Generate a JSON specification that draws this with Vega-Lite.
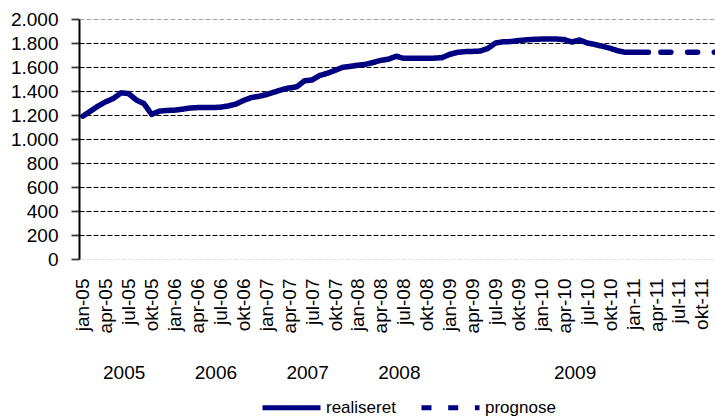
{
  "$schema": "https://vega.github.io/schema/vega-lite/v6.json",
  "width": 642,
  "height": 240,
  "autosize": {"type": "none"},
  "padding": {"left": 79, "top": 19, "right": 0, "bottom": 157},
  "background": "white",
  "config": {
    "font": "Liberation Sans",
    "view": {"stroke": null}
  },
  "data": {
    "values": [
      {"month": "jan-05", "value": 1190, "series": "realiseret"},
      {"month": "feb-05", "value": 1232, "series": "realiseret"},
      {"month": "mar-05", "value": 1275, "series": "realiseret"},
      {"month": "apr-05", "value": 1310, "series": "realiseret"},
      {"month": "maj-05", "value": 1338, "series": "realiseret"},
      {"month": "jun-05", "value": 1385, "series": "realiseret"},
      {"month": "jul-05", "value": 1378, "series": "realiseret"},
      {"month": "aug-05", "value": 1325, "series": "realiseret"},
      {"month": "sep-05", "value": 1295, "series": "realiseret"},
      {"month": "okt-05", "value": 1205, "series": "realiseret"},
      {"month": "nov-05", "value": 1232, "series": "realiseret"},
      {"month": "dec-05", "value": 1238, "series": "realiseret"},
      {"month": "jan-06", "value": 1240, "series": "realiseret"},
      {"month": "feb-06", "value": 1248, "series": "realiseret"},
      {"month": "mar-06", "value": 1258, "series": "realiseret"},
      {"month": "apr-06", "value": 1262, "series": "realiseret"},
      {"month": "maj-06", "value": 1262, "series": "realiseret"},
      {"month": "jun-06", "value": 1262, "series": "realiseret"},
      {"month": "jul-06", "value": 1265, "series": "realiseret"},
      {"month": "aug-06", "value": 1275, "series": "realiseret"},
      {"month": "sep-06", "value": 1290, "series": "realiseret"},
      {"month": "okt-06", "value": 1320, "series": "realiseret"},
      {"month": "nov-06", "value": 1345, "series": "realiseret"},
      {"month": "dec-06", "value": 1355, "series": "realiseret"},
      {"month": "jan-07", "value": 1370, "series": "realiseret"},
      {"month": "feb-07", "value": 1390, "series": "realiseret"},
      {"month": "mar-07", "value": 1410, "series": "realiseret"},
      {"month": "apr-07", "value": 1425, "series": "realiseret"},
      {"month": "maj-07", "value": 1435, "series": "realiseret"},
      {"month": "jun-07", "value": 1485, "series": "realiseret"},
      {"month": "jul-07", "value": 1492, "series": "realiseret"},
      {"month": "aug-07", "value": 1530, "series": "realiseret"},
      {"month": "sep-07", "value": 1548, "series": "realiseret"},
      {"month": "okt-07", "value": 1572, "series": "realiseret"},
      {"month": "nov-07", "value": 1597, "series": "realiseret"},
      {"month": "dec-07", "value": 1605, "series": "realiseret"},
      {"month": "jan-08", "value": 1615, "series": "realiseret"},
      {"month": "feb-08", "value": 1622, "series": "realiseret"},
      {"month": "mar-08", "value": 1638, "series": "realiseret"},
      {"month": "apr-08", "value": 1655, "series": "realiseret"},
      {"month": "maj-08", "value": 1665, "series": "realiseret"},
      {"month": "jun-08", "value": 1690, "series": "realiseret"},
      {"month": "jul-08", "value": 1672, "series": "realiseret"},
      {"month": "aug-08", "value": 1672, "series": "realiseret"},
      {"month": "sep-08", "value": 1672, "series": "realiseret"},
      {"month": "okt-08", "value": 1672, "series": "realiseret"},
      {"month": "nov-08", "value": 1674, "series": "realiseret"},
      {"month": "dec-08", "value": 1678, "series": "realiseret"},
      {"month": "jan-09", "value": 1705, "series": "realiseret"},
      {"month": "feb-09", "value": 1722, "series": "realiseret"},
      {"month": "mar-09", "value": 1728, "series": "realiseret"},
      {"month": "apr-09", "value": 1730, "series": "realiseret"},
      {"month": "maj-09", "value": 1733, "series": "realiseret"},
      {"month": "jun-09", "value": 1755, "series": "realiseret"},
      {"month": "jul-09", "value": 1800, "series": "realiseret"},
      {"month": "aug-09", "value": 1810, "series": "realiseret"},
      {"month": "sep-09", "value": 1812, "series": "realiseret"},
      {"month": "okt-09", "value": 1820, "series": "realiseret"},
      {"month": "nov-09", "value": 1826, "series": "realiseret"},
      {"month": "dec-09", "value": 1830, "series": "realiseret"},
      {"month": "jan-10", "value": 1833, "series": "realiseret"},
      {"month": "feb-10", "value": 1833, "series": "realiseret"},
      {"month": "mar-10", "value": 1833, "series": "realiseret"},
      {"month": "apr-10", "value": 1828, "series": "realiseret"},
      {"month": "maj-10", "value": 1808, "series": "realiseret"},
      {"month": "jun-10", "value": 1825, "series": "realiseret"},
      {"month": "jul-10", "value": 1800, "series": "realiseret"},
      {"month": "aug-10", "value": 1788, "series": "realiseret"},
      {"month": "sep-10", "value": 1772, "series": "realiseret"},
      {"month": "okt-10", "value": 1756, "series": "realiseret"},
      {"month": "nov-10", "value": 1735, "series": "realiseret"},
      {"month": "dec-10", "value": 1722, "series": "realiseret"},
      {"month": "jan-11", "value": 1722, "series": "realiseret"},
      {"month": "feb-11", "value": 1722, "series": "realiseret"},
      {"month": "mar-11", "value": 1722, "series": "realiseret"},
      {"month": "mar-11", "value": 1722, "series": "prognose"},
      {"month": "apr-11", "value": 1722, "series": "prognose"},
      {"month": "maj-11", "value": 1722, "series": "prognose"},
      {"month": "jun-11", "value": 1722, "series": "prognose"},
      {"month": "jul-11", "value": 1722, "series": "prognose"},
      {"month": "aug-11", "value": 1722, "series": "prognose"},
      {"month": "sep-11", "value": 1722, "series": "prognose"},
      {"month": "okt-11", "value": 1722, "series": "prognose"},
      {"month": "nov-11", "value": 1722, "series": "prognose"},
      {"month": "dec-11", "value": 1722, "series": "prognose"}
    ]
  },
  "layer": [
    {
      "mark": {
        "type": "line",
        "color": "#000080",
        "strokeWidth": 5.5,
        "strokeCap": "round",
        "strokeJoin": "round",
        "strokeDashOffset": 14.2
      },
      "encoding": {
        "x": {
          "field": "month",
          "type": "ordinal",
          "sort": null,
          "scale": {"type": "point", "padding": 0.5},
          "axis": {
            "title": null,
            "values": ["jan-05","apr-05","jul-05","okt-05","jan-06","apr-06","jul-06","okt-06","jan-07","apr-07","jul-07","okt-07","jan-08","apr-08","jul-08","okt-08","jan-09","apr-09","jul-09","okt-09","jan-10","apr-10","jul-10","okt-10","jan-11","apr-11","jul-11","okt-11"],
            "labelAngle": -90,
            "labelFontSize": 19,
            "labelColor": "black",
            "labelPadding": 19,
            "ticks": false,
            "domain": false,
            "grid": false
          }
        },
        "y": {
          "field": "value",
          "type": "quantitative",
          "scale": {"domain": [0, 2000]},
          "axis": {
            "title": null,
            "values": [0,200,400,600,800,1000,1200,1400,1600,1800,2000],
            "labelExpr": "replace(format(datum.value, ','), ',', '.')",
            "labelFontSize": 19,
            "labelColor": "black",
            "labelPadding": 13,
            "domain": true,
            "domainColor": "black",
            "domainWidth": 2,
            "ticks": true,
            "tickColor": "#333333",
            "tickSize": 8,
            "tickWidth": 1.7,
            "grid": true,
            "gridDash": [5, 2],
            "gridWidth": 1,
            "gridColor": {"condition": [{"test": "datum.value === 2000", "value": "#a6a6a6"}, {"test": "datum.value === 0", "value": "#e0e0e0"}], "value": "black"}
          }
        },
        "strokeDash": {
          "field": "series",
          "type": "nominal",
          "scale": {"domain": ["realiseret", "prognose"], "range": [[1, 0], [10, 16.7]]},
          "legend": {
            "title": null,
            "orient": "none",
            "legendX": 181,
            "legendY": 357,
            "padding": 0,
            "direction": "horizontal",
            "symbolType": "stroke",
            "symbolSize": 3364,
            "symbolStrokeWidth": 5,
            "symbolStrokeColor": "#000080",
            "labelFontSize": 17,
            "labelColor": "black",
            "labelOffset": 3,
            "columnPadding": 15
          }
        }
      }
    },
    {
      "mark": {"type": "point", "opacity": 0},
      "encoding": {
        "x": {
          "field": "month",
          "type": "ordinal",
          "sort": null,
          "axis": {
            "title": null,
            "orient": "bottom",
            "values": ["jul-05", "jul-06", "jul-07", "jul-08", "jun-10"],
            "labelExpr": "datum.value == 'jun-10' ? '2009' : '20' + substring(datum.value, 4, 6)",
            "labelAngle": 0,
            "labelFontSize": 19,
            "labelColor": "black",
            "labelPadding": 104,
            "labelOffset": -5,
            "ticks": false,
            "domain": false,
            "grid": false
          }
        }
      }
    }
  ],
  "resolve": {"axis": {"x": "independent"}}
}
